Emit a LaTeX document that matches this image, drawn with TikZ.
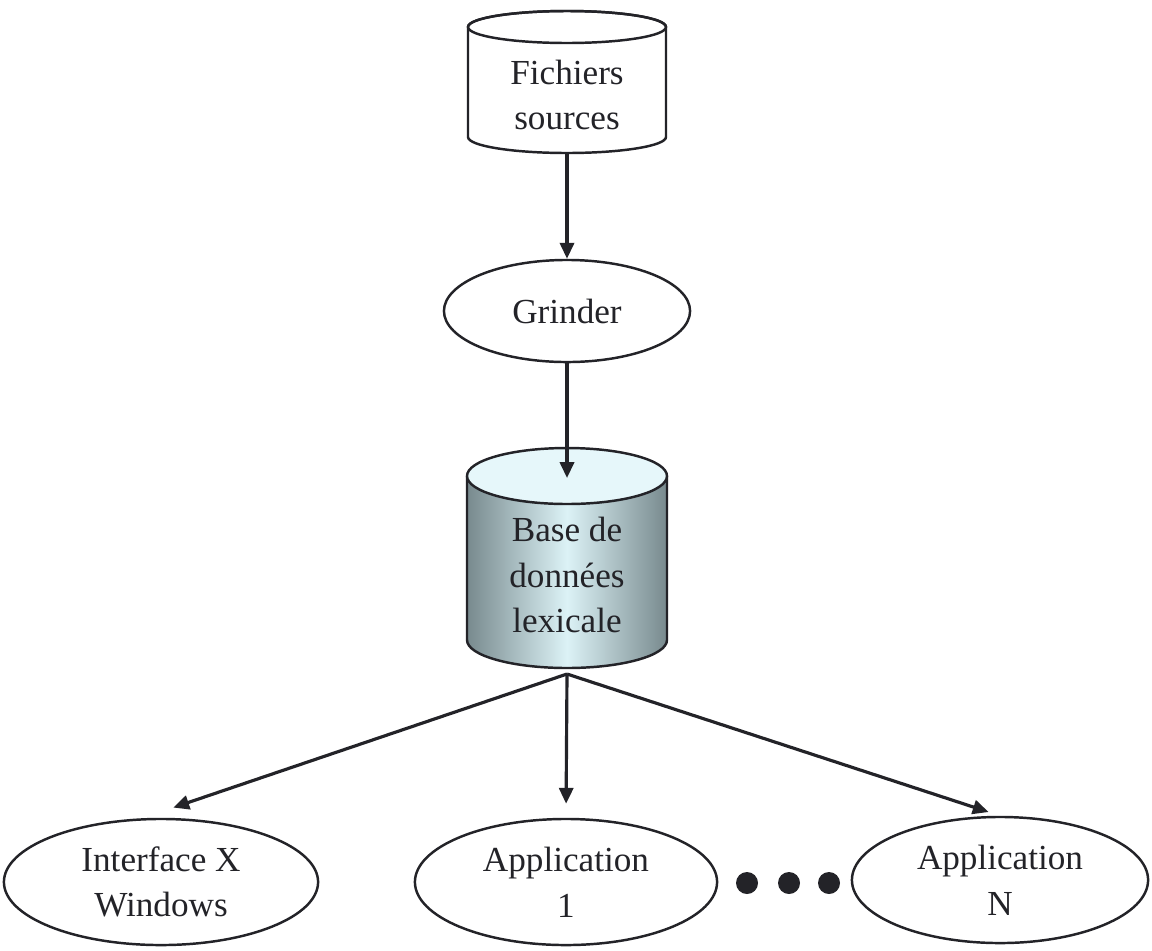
\documentclass[tikz,border=0pt]{standalone}
\usepackage{fontspec}
\setmainfont{Liberation Serif}
\usetikzlibrary{shapes.geometric,arrows.meta}

\definecolor{lineColor}{RGB}{35,35,40}
\definecolor{dbEdge}{RGB}{120,138,142}
\definecolor{dbMid}{RGB}{220,242,246}
\definecolor{dbTopFill}{RGB}{230,247,250}

\tikzset{
  label/.style={align=center, text=lineColor, font=\fontsize{10}{13}\selectfont},
  blob/.style={ellipse, draw=lineColor, line width=0.7pt, inner sep=0pt, label},
  link/.style={-{Triangle[length=4.5pt,width=4pt]}, draw=lineColor, line width=0.9pt},
}

\begin{document}
\begin{tikzpicture}[x=0.01cm,y=0.01cm]
  \useasboundingbox (0,0) rectangle (1152,950);
  % Source files
  \draw[lineColor, line width=0.7pt, fill=white] (468,923) -- (468,813)
    arc[start angle=180, end angle=360, x radius=99, y radius=16] -- (666,923)
    arc[start angle=0, end angle=180, x radius=99, y radius=16] -- cycle;
  \draw[lineColor, line width=0.7pt] (567,923) ellipse[x radius=99, y radius=16];
  \node[label] (src) at (567,855) {Fichiers\\sources};
  \coordinate (srcBot) at (567,797);
  % Grinder
  \node[blob, minimum width=2.46cm, minimum height=1.02cm] (grinder) at (567,639) {Grinder};
  % Lexical database
  \shade[left color=dbEdge, right color=dbEdge, middle color=dbMid] (467,474) -- (467,310)
    arc[start angle=180, end angle=360, x radius=100, y radius=28] -- (667,474)
    arc[start angle=0, end angle=180, x radius=100, y radius=28] -- cycle;
  \draw[lineColor, line width=0.7pt] (467,474) -- (467,310)
    arc[start angle=180, end angle=360, x radius=100, y radius=28] -- (667,474);
  \draw[lineColor, line width=0.7pt, fill=dbTopFill] (567,474) ellipse[x radius=100, y radius=28];
  \node[label] (db) at (567,375) {Base de\\données\\lexicale};
  \coordinate (dbIn) at (567,472);
  \coordinate (dbOut) at (567,276);
  % Outputs
  \node[blob, minimum width=3.14cm, minimum height=1.26cm] (iface) at (161,68) {Interface X\\Windows};
  \node[blob, minimum width=3.02cm, minimum height=1.26cm] (app1) at (566,68) {Application\\1};
  \node[blob, minimum width=2.96cm, minimum height=1.26cm] (appN) at (1000,70) {Application\\N};
  \foreach \px in {747,789,829}
    \fill[lineColor] (\px,67) circle[radius=11];
  % Arrows
  \draw[link] (srcBot) -- (grinder.north);
  \draw[link] (grinder.south) -- (dbIn);
  \draw[link, shorten >=0.13cm] (dbOut) -- ([yshift=0.06cm]iface.north);
  \draw[link, shorten >=0.14cm] (dbOut) -- (app1.north);
  \draw[link, shorten >=0.12cm] (dbOut) -- (appN.north);
\end{tikzpicture}
\end{document}
